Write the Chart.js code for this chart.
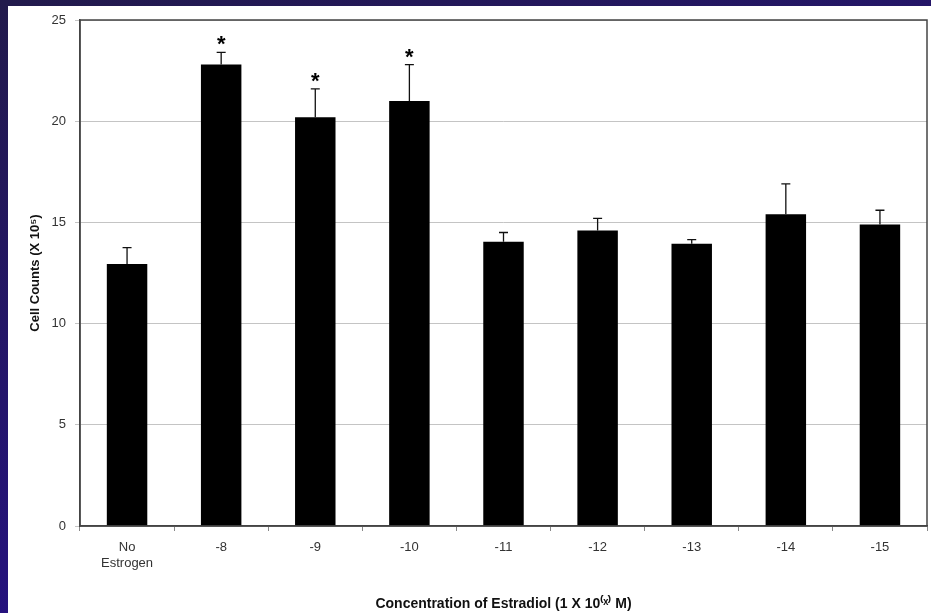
<!DOCTYPE html>
<html>
<head>
<meta charset="utf-8">
<script src="https://cdn.jsdelivr.net/npm/chart.js@4/dist/chart.umd.min.js"></script>
<style>
  html, body { margin: 0; padding: 0; }
  body { width: 931px; height: 613px; overflow: hidden;
         background: linear-gradient(160deg, #221a4c 0%, #25137a 60%, #2a0b98 100%); position: relative; }
  #wrap { position: absolute; left: 8px; top: 6px; width: 923px; height: 607px; background: #ffffff; }
  canvas { display: block; }
</style>
</head>
<body>
<div id="wrap"><canvas id="c" width="923" height="607"></canvas></div>
<script>
// ---- data ----
const categories = [["No", "Estrogen"], "-8", "-9", "-10", "-11", "-12", "-13", "-14", "-15"];
const cellCounts = [12.95, 22.8, 20.2, 21.0, 14.05, 14.6, 13.95, 15.4, 14.9];
const errorUpper = [0.8, 0.6, 1.4, 1.8, 0.45, 0.6, 0.2, 1.5, 0.7];
const significant = [false, true, true, true, false, false, false, false, false];
const yTicks = [0, 5, 10, 15, 20, 25];

const errorBarPlugin = {
  id: 'errorBars',
  afterDatasetsDraw(chart) {
    const ctx = chart.ctx;
    const meta = chart.getDatasetMeta(0);
    const y = chart.scales.y;
    ctx.save();
    meta.data.forEach((bar, i) => {
      const x = bar.x;
      const yTop = y.getPixelForValue(cellCounts[i] + errorUpper[i]);
      const yBase = y.getPixelForValue(cellCounts[i]);
      ctx.strokeStyle = '#111';
      ctx.lineWidth = 1.3;
      ctx.beginPath();
      ctx.moveTo(x, yBase);
      ctx.lineTo(x, yTop);
      ctx.moveTo(x - 4.5, yTop);
      ctx.lineTo(x + 4.5, yTop);
      ctx.stroke();
      if (significant[i]) {
        ctx.fillStyle = '#000';
        ctx.font = 'bold 22px "Liberation Sans", Arial, sans-serif';
        ctx.textAlign = 'center';
        ctx.textBaseline = 'alphabetic';
        ctx.fillText('*', x, yTop - 1);
      }
    });
    ctx.restore();
  }
};

const frameBox = {
  id: 'frameBox',
  afterDraw(chart) {
    const a = chart.chartArea;
    const ctx = chart.ctx;
    ctx.save();
    ctx.strokeStyle = '#444';
    ctx.lineWidth = 1.5;
    ctx.strokeRect(a.left, a.top, a.right - a.left, a.bottom - a.top);
    ctx.restore();
  }
};

new Chart(document.getElementById('c'), {
  type: 'bar',
  data: {
    labels: categories,
    datasets: [{
      data: cellCounts,
      backgroundColor: '#000000',
      borderWidth: 0,
      barPercentage: 0.43,
      categoryPercentage: 1.0
    }]
  },
  options: {
    responsive: false,
    animation: false,
    events: [],
    layout: { padding: { top: 14, right: 4, left: 0, bottom: 0 } },
    plugins: { legend: { display: false }, tooltip: { enabled: false } },
    scales: {
      x: {
        offset: true,
        grid: { offset: true, drawOnChartArea: false, drawTicks: true, tickLength: 5, color: '#888' },
        border: { display: true, color: '#444', width: 1.5 },
        ticks: { color: '#333', font: { family: '"Liberation Sans", Arial, sans-serif', size: 13 }, padding: 9, maxRotation: 0, autoSkip: false },
        title: { display: true, text: 'Concentration of Estradiol (1 X 10\u207D\u02E3\u207E M)', color: '#111',
                 font: { family: '"Liberation Sans", Arial, sans-serif', size: 14, weight: 'bold' }, padding: { top: 4, bottom: 0 } },
        afterFit(s) { s.height = 87; }
      },
      y: {
        min: 0, max: 25,
        afterBuildTicks(s) { s.ticks = yTicks.map(v => ({ value: v })); },
        grid: { color: '#c4c4c4', lineWidth: 1, tickLength: 5, drawTicks: true },
        border: { display: true, color: '#444', width: 1.5 },
        ticks: { color: '#333', font: { family: '"Liberation Sans", Arial, sans-serif', size: 13 }, padding: 9 },
        title: { display: true, text: 'Cell Counts (X 10\u2075)', color: '#111',
                 font: { family: '"Liberation Sans", Arial, sans-serif', size: 13, weight: 'bold' }, padding: { top: 20, bottom: 4 } },
        afterFit(s) { s.width = 72; s.paddingTop = 0; s.paddingBottom = 0; }
      }
    }
  },
  plugins: [errorBarPlugin, frameBox]
});
</script>
</body>
</html>
